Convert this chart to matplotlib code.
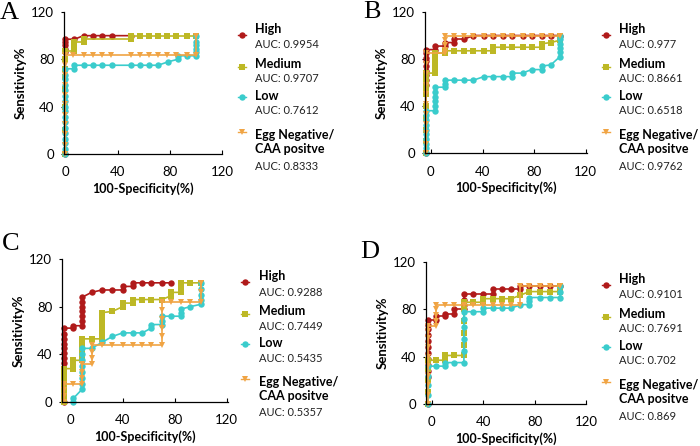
import matplotlib
matplotlib.use('Agg')
import matplotlib.pyplot as plt
from matplotlib.lines import Line2D

plt.rcParams['font.family'] = ['Lato', 'DejaVu Sans']

# colours for the four groups
HIGH_C = '#B01A1A'
MED_C = '#BDB825'
LOW_C = '#3ACCCC'
EGG_C = '#F0A444'

# ---------------- panel A ----------------
a_high_x = [0, 0, 0, 0, 0, 0, 7, 14, 21, 28, 36, 50]
a_high_y = [0, 86, 89, 92, 95, 97, 97, 100, 100, 100, 100, 100]
a_med_x = [0, 0, 0, 0, 0, 0, 0, 0, 7, 7, 7, 7, 14, 14, 50, 50, 57, 64, 71, 78, 85, 93, 100]
a_med_y = [0, 20, 40, 55, 65, 72, 80, 87, 87, 89, 92, 95, 95, 97, 97, 100, 100, 100, 100, 100, 100, 100, 100]
a_low_x = [0, 0, 0, 0, 0, 0, 0, 0, 0, 0, 0, 0, 0, 0, 0, 0, 0, 7, 7, 14, 21, 28, 36, 50, 57, 64, 71,
           79, 86, 86, 93, 100, 100, 100, 100, 100, 100]
a_low_y = [0, 4, 9, 13, 18, 22, 27, 31, 36, 40, 45, 49, 54, 58, 63, 67, 72, 72, 75, 75, 75, 75, 75, 75, 75, 75, 75,
           78, 80, 83, 83, 83, 86, 89, 92, 95, 100]
a_egg_x = [0, 0, 0, 0, 0, 0, 0, 0, 0, 0, 0, 6, 14, 21, 28, 35, 50, 57, 64, 71, 78, 85, 93, 100, 100]
a_egg_y = [0, 8, 17, 25, 33, 42, 50, 58, 67, 75, 84, 84, 84, 84, 84, 84, 84, 84, 84, 84, 84, 84, 84, 84, 100]
a_auc = ['0.9954', '0.9707', '0.7612', '0.8333']

# ---------------- panel B ----------------
b_high_x = [-4, -4, -4, -4, -4, -4, -4, -4, -4, -4, 3, 3, 11, 11, 18, 18, 26,
            33, 41, 48, 56, 63, 71, 78, 86, 93, 100]
b_high_y = [0, 58, 62, 66, 70, 74, 78, 81, 85, 88, 88, 91, 91, 94, 94, 97, 97,
            100, 100, 100, 100, 100, 100, 100, 100, 100, 100]
b_med_x = [-4, -4, -4, -4, -4, -4, -4, -4, -4, -4, 3, 3, 3, 3, 3, 11, 11, 18, 26, 33, 41, 48, 48,
           56, 63, 71, 78, 86, 86, 93, 100, 100]
b_med_y = [0, 10, 20, 30, 40, 50, 55, 60, 65, 68, 68, 72, 76, 80, 85, 85, 87, 87, 87, 87, 87, 87, 90,
           90, 90, 90, 90, 90, 93, 94, 96, 100]
b_low_x = [-4, -4, -4, -4, -4, -4, -4, -4, -4, -4, 3, 3, 3, 3, 3, 3, 11, 11, 11, 18, 26, 33, 41, 48,
           56, 63, 63, 71, 78, 86, 86, 93, 100, 100, 100, 100, 100, 100]
b_low_y = [0, 4, 8, 12, 16, 20, 24, 28, 32, 36, 36, 40, 44, 48, 52, 56, 56, 59, 62, 62, 62, 62, 65, 65,
           65, 65, 68, 68, 71, 71, 74, 75, 82, 86, 89, 93, 97, 100]
b_egg_x = [-4, -4, -4, -4, -4, -4, -4, -4, -4, -4, -4, 11, 11, 11, 11, 11,
           18, 26, 33, 41, 48, 56, 63, 71, 78, 86, 93, 100]
b_egg_y = [0, 8, 17, 25, 33, 42, 50, 58, 67, 76, 85, 85, 88, 92, 96, 100,
           100, 100, 100, 100, 100, 100, 100, 100, 100, 100, 100, 100]
b_auc = ['0.977', '0.8661', '0.6518', '0.9762']

# ---------------- panel C ----------------
c_high_x = [-5, -5, -5, -5, -5, -5, -5, -5, -5, 2, 2, 9, 9, 9, 9, 9, 9, 9, 16, 24, 32, 40, 40, 48, 48,
            55, 62, 70, 77]
c_high_y = [0, 33, 37, 41, 45, 49, 53, 57, 62, 62, 64, 64, 68, 72, 76, 80, 84, 88, 92, 94, 94, 94, 97, 97, 100,
            100, 100, 100, 100]
c_med_x = [-5, -5, -5, -5, -5, -5, -5, 2, 2, 2, 9, 9, 9, 9, 9, 16, 24, 24, 24, 24, 24, 24, 32, 40, 40,
           48, 48, 55, 62, 70, 77, 77, 85, 85, 85, 92, 100]
c_med_y = [0, 5, 10, 15, 20, 24, 28, 28, 31, 35, 35, 40, 44, 48, 53, 53, 53, 57, 61, 66, 70, 75, 76, 80, 83,
           83, 86, 86, 86, 86, 89, 92, 92, 96, 100, 100, 100]
c_low_x = [2, 2, 9, 9, 9, 9, 9, 9, 9, 9, 16, 24, 32, 40, 48, 55, 62, 62, 70, 70, 70, 77, 85, 85, 85,
           92, 100, 100, 100, 100, 100]
c_low_y = [0, 3, 11, 15, 20, 25, 30, 35, 40, 45, 45, 50, 55, 58, 58, 58, 62, 65, 65, 68, 72, 72, 72, 75, 78,
           80, 82, 86, 90, 95, 100]
c_egg_x = [-5, -5, -5, -5, 2, 9, 9, 9, 9, 16, 16, 16, 16, 24, 32, 40, 48, 55, 62, 70, 70, 70, 70, 70, 70,
           77, 85, 92, 100, 100, 100]
c_egg_y = [0, 5, 10, 15, 15, 15, 20, 25, 32, 32, 37, 42, 48, 48, 48, 48, 48, 48, 48, 48, 55, 62, 70, 77, 84,
           84, 84, 84, 84, 92, 100]
c_auc = ['0.9288', '0.7449', '0.5435', '0.5357']

# ---------------- panel D ----------------
d_high_x = [-3, -3, -3, -3, -3, -3, -3, -3, -3, -3, -3, -3, 3, 3, 10, 10, 17, 17, 25, 25, 25, 25,
            32, 40, 48, 48, 55, 62, 69, 69, 76, 84, 92, 100]
d_high_y = [0, 23, 28, 33, 38, 43, 48, 53, 58, 63, 67, 71, 71, 74, 74, 76, 76, 80, 80, 84, 88, 93,
            93, 93, 93, 97, 97, 97, 97, 100, 100, 100, 100, 100]
d_med_x = [-3, -3, -3, -3, -3, 3, 10, 10, 17, 25, 25, 25, 25, 25, 25, 32, 40, 40, 48, 55, 62, 69,
           76, 84, 92, 100, 100]
d_med_y = [0, 10, 20, 30, 37, 37, 37, 41, 41, 41, 50, 60, 70, 80, 86, 86, 86, 89, 89, 89, 89, 92,
           95, 95, 95, 95, 100]
d_low_x = [-3, -3, -3, -3, -3, 3, 10, 10, 17, 25, 25, 25, 25, 25, 25, 32, 40, 40, 48, 55, 62, 69,
           76, 76, 76, 84, 92, 100, 100, 100]
d_low_y = [0, 8, 16, 24, 32, 32, 32, 35, 35, 35, 45, 55, 65, 72, 78, 78, 78, 81, 81, 81, 81, 84,
           84, 87, 90, 90, 90, 90, 95, 100]
d_egg_x = [-3, -3, -3, -3, -3, -3, -3, -3, -3, -3, 3, 3, 3, 3, 3, 10, 17, 25, 32, 40, 48, 55, 62, 69,
           69, 76, 84, 92, 100]
d_egg_y = [0, 8, 16, 24, 32, 40, 48, 56, 62, 66, 66, 70, 75, 80, 84, 84, 84, 84, 84, 84, 84, 84, 84, 84,
           100, 100, 100, 100, 100]
d_auc = ['0.9101', '0.7691', '0.702', '0.869']

group_names = ['High', 'Medium', 'Low', 'Egg Negative/\nCAA positve']
ticks = [0, 40, 80, 120]

W, H = 700.0, 446.0
MS = 4.6


def px(x, y):
    # pixel position (from top left) -> figure fraction
    return x / W, 1 - y / H


def draw_panel(fig, box, xlim, curves, aucs, letter, letter_pos, leg_x, mark_x):
    left, top, right, bottom = box
    ax = fig.add_axes([left / W, 1 - bottom / H, (right - left) / W, (bottom - top) / H])

    styles = [(HIGH_C, 'o'), (MED_C, 's'), (LOW_C, 'o'), (EGG_C, 'v')]
    for (xs, ys), (col, mk) in zip(curves, styles):
        ax.plot(xs, ys, color=col, marker=mk, markersize=MS, lw=1.2,
                markeredgewidth=0, clip_on=False)

    ax.set_xlim(xlim)
    ax.set_ylim(0, 120)
    ax.set_xticks(ticks)
    ax.set_yticks(ticks)
    ax.spines['top'].set_visible(False)
    ax.spines['right'].set_visible(False)
    ax.spines['left'].set_linewidth(0.9)
    ax.spines['bottom'].set_linewidth(0.9)
    ax.tick_params(axis='x', direction='in', length=3, pad=9, labelsize=9.5, width=0.8)
    ax.tick_params(axis='y', direction='out', length=2, pad=5, labelsize=9.5, width=0.8)
    ax.set_xlabel('100-Specificity(%)', fontsize=9, fontweight='bold', labelpad=3)
    ax.set_ylabel('Sensitivity%', fontsize=9.5, fontweight='bold', labelpad=3)

    # panel letter
    lx, ly = px(*letter_pos)
    fig.text(lx, ly, letter, fontsize=19, family='Liberation Serif', ha='center', va='center')

    # hand made legend
    label_rows = [17, 52, 84, 130]
    auc_rows = [33, 67, 99, 154]
    mark_rows = [23, 55, 85, 120]
    for i in range(4):
        col, mk = styles[i]
        tx, ty = px(leg_x, top + label_rows[i])
        fig.text(tx, ty, group_names[i], fontsize=9, fontweight='bold', ha='left', va='center',
                 linespacing=1.2)
        tx, ty = px(leg_x, top + auc_rows[i])
        fig.text(tx, ty, 'AUC: ' + aucs[i], fontsize=8, ha='left', va='center', color='#222222')
        x0, y0 = px(mark_x - 4, top + mark_rows[i])
        x1, _ = px(mark_x + 4, top + mark_rows[i])
        xm, _ = px(mark_x, top + mark_rows[i])
        fig.add_artist(Line2D([x0, xm, x1], [y0, y0, y0], color=col, lw=1.0, marker=mk,
                              markersize=MS, markeredgewidth=0, markevery=[1],
                              transform=fig.transFigure))
    return ax


def main():
    fig = plt.figure(figsize=(7, 4.46), dpi=100)

    draw_panel(fig, (64, 12, 222, 154), (-1, 120),
               [(a_high_x, a_high_y), (a_med_x, a_med_y), (a_low_x, a_low_y), (a_egg_x, a_egg_y)],
               a_auc, 'A', (9, 13), 255, 242)
    draw_panel(fig, (425, 12, 587, 153), (-4.6, 121),
               [(b_high_x, b_high_y), (b_med_x, b_med_y), (b_low_x, b_low_y), (b_egg_x, b_egg_y)],
               b_auc, 'B', (372, 12), 619, 606)
    draw_panel(fig, (62, 259, 228, 402), (-6.7, 121),
               [(c_high_x, c_high_y), (c_med_x, c_med_y), (c_low_x, c_low_y), (c_egg_x, c_egg_y)],
               c_auc, 'C', (11, 244), 259, 245)
    draw_panel(fig, (426, 262, 586, 404), (-4.5, 120),
               [(d_high_x, d_high_y), (d_med_x, d_med_y), (d_low_x, d_low_y), (d_egg_x, d_egg_y)],
               d_auc, 'D', (370, 252), 619, 606)

    plt.savefig('out.png', dpi=100)


if __name__ == "__main__":
    main()
